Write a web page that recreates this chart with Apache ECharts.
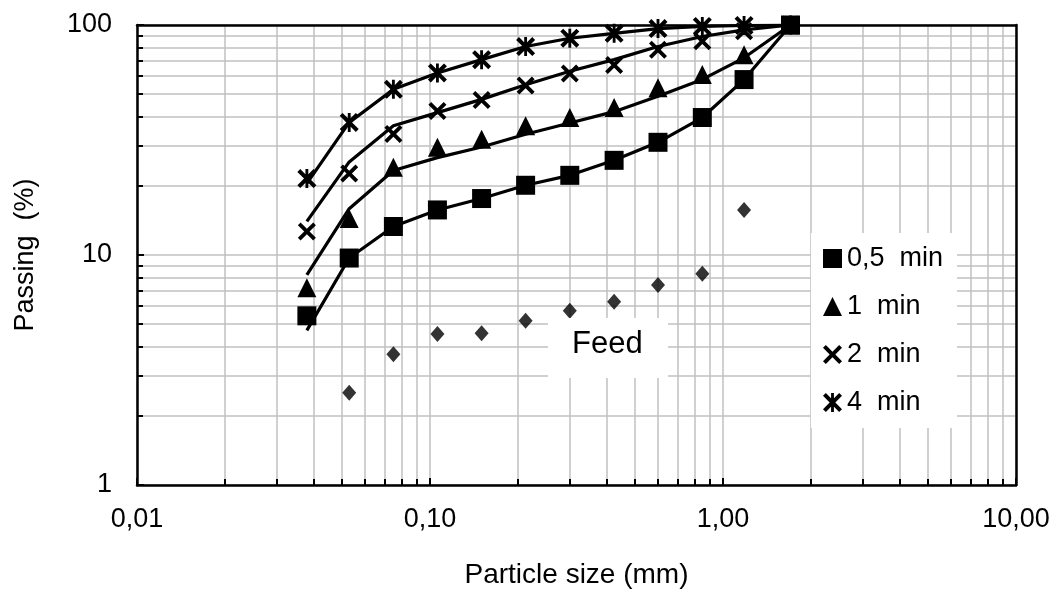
<!DOCTYPE html>
<html>
<head>
<meta charset="utf-8">
<script src="https://cdn.jsdelivr.net/npm/echarts@6/dist/echarts.min.js"></script>
<style>
html,body{margin:0;padding:0;background:#fff;}
#c{width:1053px;height:594px;}
</style>
</head>
<body>
<div id="c"></div>
<script>
// Particle sizes (mm)
const sizes = [0.038, 0.053, 0.075, 0.106, 0.15, 0.212, 0.3, 0.425, 0.6, 0.85, 1.18, 1.7];
// Measured passing (%) – markers
const pass05 = [5.44, 9.7, 13.3, 15.7, 17.6, 20.1, 22.2, 25.8, 30.9, 39.6, 57.9, 100];
const pass1 = [7.2, 14.4, 24.1, 29.4, 31.9, 36.5, 39.6, 43.8, 53.4, 60.9, 74.3, 100];
const pass2 = [12.65, 22.6, 33.6, 42.3, 47.2, 54.6, 61.5, 67, 78, 85, 94, 100];
const pass4 = [21.5, 37.7, 52.5, 61.9, 70.7, 80.6, 87.6, 92, 96.5, 98.5, 99.5, 100];
const feed = [null, 2.52, 3.70, 4.53, 4.57, 5.18, 5.72, 6.27, 7.40, 8.28, 15.7, null];
// Model (fitted) curves
const fit05 = [4.7, 9.7, 13.3, 15.7, 17.6, 20.1, 22.2, 25.8, 30.9, 39.6, 57.9, 100];
const fit1 = [8.2, 15.9, 23.3, 26.5, 29.5, 33.5, 37.5, 42, 49, 58, 72, 100];
const fit2 = [14.0, 25.4, 36.5, 41.6, 47.5, 55, 62.9, 70.7, 80.6, 89.1, 95.2, 100];
const fit4 = [20.5, 37.7, 52.5, 61.9, 70.7, 80.6, 87.6, 92, 96.5, 98.5, 99.5, 100];
// Series names
const names = ['0,5  min', '1  min', '2  min', '4  min'];
// Minor grid values
const xMinor = [0.02,0.03,0.04,0.05,0.06,0.07,0.08,0.09,0.2,0.3,0.4,0.5,0.6,0.7,0.8,0.9,2,3,4,5,6,7,8,9];
const yMinor = [2,3,4,5,6,7,8,9,20,30,40,50,60,70,80,90];

const FONT = '"Liberation Sans", Arial, sans-serif';
const xPath = 'path://M0,3 L3,0 L10,7 L17,0 L20,3 L13,10 L20,17 L17,20 L10,13 L3,20 L0,17 L7,10 Z';
const starPath = 'path://M0,3 L3,0 L10,7 L17,0 L20,3 L13,10 L20,17 L17,20 L10,13 L3,20 L0,17 L7,10 Z M8.5,0 L11.5,0 L11.5,20 L8.5,20 Z';
const symbols = ['rect', 'triangle', xPath, starPath];
const symSizes = [19, 19, 18, 19];

function pairs(vals){ return sizes.map((s,i)=> vals[i]==null ? null : [s, vals[i]]).filter(p=>p); }

const gridColor = '#c0c0c0';
const series = [];
const minorLines = [];
xMinor.forEach(v=>minorLines.push({xAxis: v}));
yMinor.forEach(v=>minorLines.push({yAxis: v}));
const tickX = Math.pow(10, 6/232), tickY = 0.01*Math.pow(10, 6/293);
const minorTicks = [];
xMinor.forEach(v=>minorTicks.push([{coord:[v,1]},{coord:[v,tickX]}]));
yMinor.forEach(v=>minorTicks.push([{coord:[0.01,v]},{coord:[tickY,v]}]));
series.push({
  type:'line', name:'grid', data:[[0.01,1]], symbol:'none', lineStyle:{opacity:0}, silent:true, z:0,
  markLine:{silent:true, symbol:'none', label:{show:false}, z:0, animation:false,
    lineStyle:{color:gridColor, width:1.5, type:'solid'}, data:minorLines}
});
series.push({
  type:'line', name:'ticks', data:[[0.01,1]], symbol:'none', lineStyle:{opacity:0}, silent:true, z:1,
  markLine:{silent:true, symbol:'none', label:{show:false}, z:1, animation:false,
    lineStyle:{color:'#000', width:2, type:'solid'}, data:minorTicks}
});
[fit05, fit1, fit2, fit4].forEach((f,i)=>{
  series.push({type:'line', name:'fit'+i, data:pairs(f), symbol:'none', z:3,
    lineStyle:{color:'#000', width:3.2}, animation:false});
});
[pass05, pass1, pass2, pass4].forEach((p,i)=>{
  series.push({type:'scatter', name:names[i], data:pairs(p), symbol:symbols[i], symbolSize:symSizes[i], z:4,
    itemStyle:{color:'#000', opacity:1}, animation:false});
});
series.push({type:'scatter', name:'Feed', data:pairs(feed), symbol:'diamond', symbolSize:[14,16], z:4,
  itemStyle:{color:'#000'}, animation:false});

const chart = echarts.init(document.getElementById('c'), null, {renderer:'canvas'});
chart.setOption({
  backgroundColor:'#fff',
  animation:false,
  textStyle:{fontFamily:FONT},
  grid:{left:137, right:37, top:25, bottom:105, show:false},
  xAxis:[{
    type:'log', logBase:10, min:0.01, max:10,
    name:'Particle size (mm)', nameLocation:'middle', nameGap:76,
    nameTextStyle:{fontSize:28, color:'#000', fontFamily:FONT},
    axisLine:{show:true, onZero:false, lineStyle:{color:'#000', width:2.5}},
    axisTick:{show:true, inside:true, length:7, lineStyle:{color:'#000', width:2}},
    axisLabel:{fontSize:27, color:'#000', fontFamily:FONT, margin:21,
      formatter:v=>Number(v).toFixed(2).replace('.', ',')},
    splitLine:{show:true, lineStyle:{color:gridColor, width:1.5}},
    minorTick:{show:false}, minorSplitLine:{show:false}
  },{
    type:'value', position:'top', min:0, max:1,
    axisLine:{show:true, onZero:false, lineStyle:{color:'#000', width:2.5}},
    axisTick:{show:false}, axisLabel:{show:false}, splitLine:{show:false}
  }],
  yAxis:[{
    type:'log', logBase:10, min:1, max:100,
    name:'Passing  (%)', nameLocation:'middle', nameGap:98, nameRotate:90,
    nameTextStyle:{fontSize:27, color:'#000', fontFamily:FONT},
    axisLine:{show:true, onZero:false, lineStyle:{color:'#000', width:2.5}},
    axisTick:{show:true, inside:true, length:7, lineStyle:{color:'#000', width:2}},
    axisLabel:{fontSize:27, color:'#000', fontFamily:FONT, margin:25,
      formatter:v=>String(Math.round(v))},
    splitLine:{show:true, lineStyle:{color:gridColor, width:1.5}}
  },{
    type:'value', position:'right', min:0, max:1,
    axisLine:{show:true, onZero:false, lineStyle:{color:'#000', width:2.5}},
    axisTick:{show:false}, axisLabel:{show:false}, splitLine:{show:false}
  }],
  legend:{
    show:true, orient:'vertical', left:811, top:233,
    backgroundColor:'#fff', padding:[12,14,12,12], itemGap:21,
    itemWidth:19, itemHeight:19,
    textStyle:{fontSize:27, color:'#000', fontFamily:FONT, lineHeight:27},
    data:names.map((n,i)=>({name:n, icon:symbols[i]})),
    selectedMode:false
  },
  graphic:[
    {type:'rect', left:548, top:318, shape:{width:120, height:60}, style:{fill:'#fff'}, z:10},
    {type:'text', left:572, top:329, style:{text:'Feed', font:'31px "Liberation Sans", Arial, sans-serif', fill:'#000'}, z:11}
  ],
  series: series
});
</script>
</body>
</html>
